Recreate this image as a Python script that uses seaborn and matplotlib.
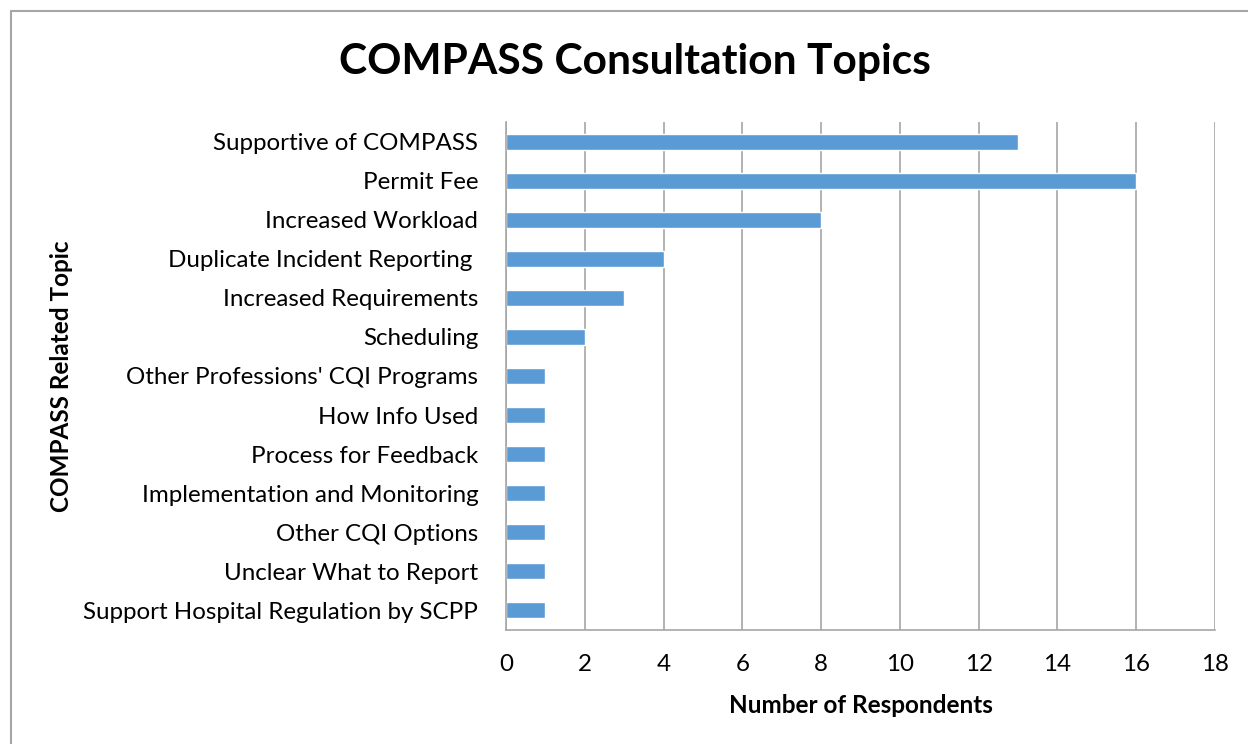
import matplotlib
matplotlib.use("Agg")
import matplotlib.pyplot as plt
import seaborn as sns
import pandas as pd
from matplotlib.patches import Rectangle

# data
topics = [
    "Supportive of COMPASS",
    "Permit Fee",
    "Increased Workload",
    "Duplicate Incident Reporting ",
    "Increased Requirements",
    "Scheduling",
    "Other Professions' CQI Programs",
    "How Info Used",
    "Process for Feedback",
    "Implementation and Monitoring",
    "Other CQI Options",
    "Unclear What to Report",
    "Support Hospital Regulation by SCPP",
]
respondents = [13, 16, 8, 4, 3, 2, 1, 1, 1, 1, 1, 1, 1]
x_ticks = [0, 2, 4, 6, 8, 10, 12, 14, 16, 18]

df = pd.DataFrame({"topic": topics, "n": respondents})

sns.set_theme(style="white")
plt.rcParams["font.family"] = ["Lato", "DejaVu Sans"]
plt.rcParams["text.color"] = "black"
plt.rcParams["axes.labelcolor"] = "black"

fig = plt.figure(figsize=(12.48, 7.44), dpi=100)
ax = fig.add_axes([506 / 1248, 1 - 630 / 744, 709 / 1248, 508 / 744])

sns.barplot(data=df, x="n", y="topic", color="#5B9BD5", saturation=1,
            width=0.41, ax=ax, orient="h")

ax.set_xlim(0, 18)
ax.set_ylim(12.5, -0.5)
ax.set_xticks(x_ticks)
ax.xaxis.grid(True, color="#A6A6A6", linewidth=1.2)
ax.set_axisbelow(True)
ax.tick_params(axis="both", length=0, labelsize=17.4, colors="black")
ax.tick_params(axis="x", pad=17)
ax.tick_params(axis="y", pad=20)
for s in ["top", "right"]:
    ax.spines[s].set_visible(False)
for s in ["left", "bottom"]:
    ax.spines[s].set_color("#A6A6A6")
    ax.spines[s].set_linewidth(1.2)

ax.set_xlabel("Number of Respondents", fontsize=17.5, fontweight="bold", labelpad=14)
ax.set_ylabel("")
fig.text(62 / 1248, 1 - 376 / 744, "COMPASS Related Topic", rotation=90,
         fontsize=17.5, fontweight="bold", ha="center", va="center")
fig.text(635 / 1248, 1 - 62 / 744, "COMPASS Consultation Topics",
         fontsize=30.6, fontweight="bold", ha="center", va="center")

# chart frame
fig.patches.append(Rectangle((10.5 / 1248, -0.01), 1.1, 1 - 11 / 744 + 0.01,
                             transform=fig.transFigure, fill=False,
                             edgecolor="#A6A6A6", linewidth=1.5))

fig.savefig("out.png", dpi=100)
